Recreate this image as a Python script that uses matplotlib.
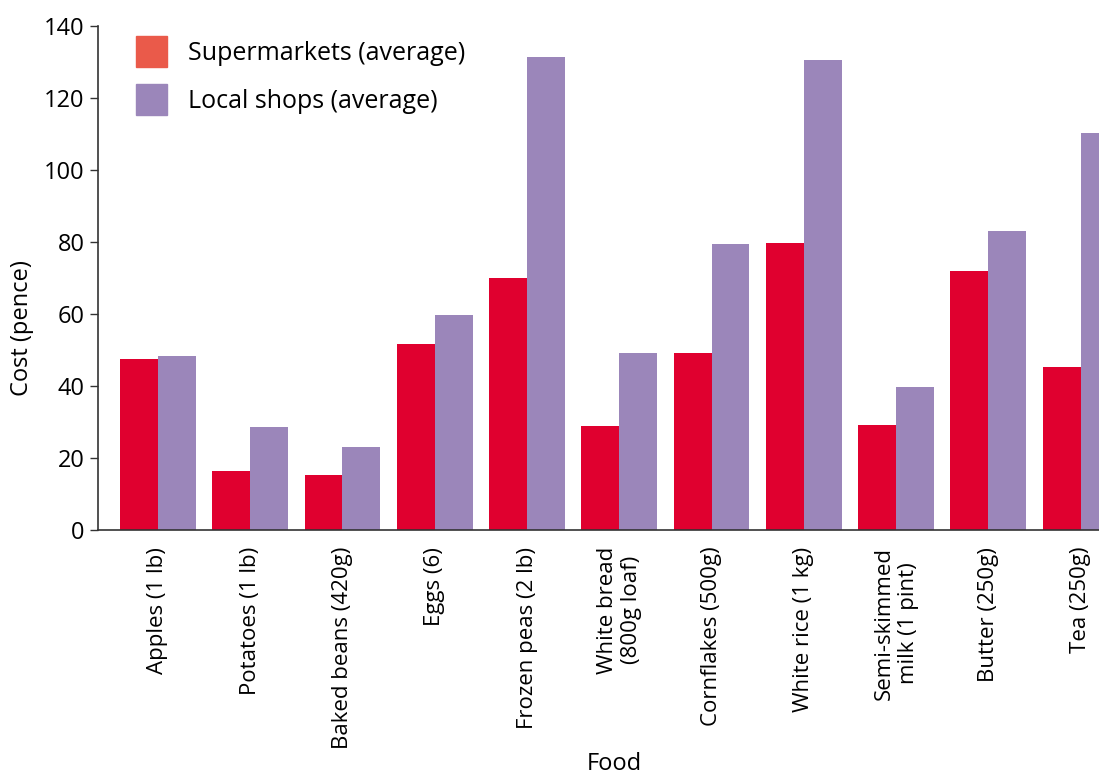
import numpy as np
import matplotlib
matplotlib.use('Agg')
import matplotlib.pyplot as plt
from matplotlib.patches import Patch

plt.rcParams['font.family'] = ['Open Sans', 'DejaVu Sans']

foods = ['Apples (1 lb)', 'Potatoes (1 lb)', 'Baked beans (420g)', 'Eggs (6)',
         'Frozen peas (2 lb)', 'White bread\n(800g loaf)', 'Cornflakes (500g)',
         'White rice (1 kg)', 'Semi-skimmed\nmilk (1 pint)', 'Butter (250g)', 'Tea (250g)']
supermarkets = [47.5, 16.4, 15.3, 51.7, 70.0, 28.9, 49.2, 79.7, 29.2, 71.9, 45.3]
local_shops = [48.3, 28.6, 23.0, 59.7, 131.4, 49.2, 79.4, 130.6, 39.7, 83.0, 110.3]
yticks = [0, 20, 40, 60, 80, 100, 120, 140]

RED = '#E0002F'
RED_KEY = '#EA5A4A'
PURPLE = '#9B86BA'

fig = plt.figure(figsize=(10.99, 7.74), dpi=100)
ax = fig.add_axes([98 / 1099, 1 - 530 / 774, 1 - 98 / 1099, (530 - 26) / 774])

x = np.arange(len(foods))
w = 0.41
ax.bar(x - w / 2, supermarkets, width=w, color=RED, linewidth=0)
ax.bar(x + w / 2, local_shops, width=w, color=PURPLE, linewidth=0)

ax.set_xlim(-0.65, 10.2)
ax.set_ylim(0, 140)
ax.set_yticks(yticks)
ax.set_xticks(x)
ax.set_xticklabels(foods, rotation=90, va='top', ha='center', fontsize=16,
                   multialignment='center')
ax.tick_params(axis='x', length=0, pad=12)
ax.tick_params(axis='y', labelsize=17, length=6, width=1, direction='out', color='#333333')

for side in ['top', 'right']:
    ax.spines[side].set_visible(False)
for side in ['left', 'bottom']:
    ax.spines[side].set_color('#333333')
    ax.spines[side].set_linewidth(1.2)

ax.set_ylabel('Cost (pence)', fontsize=17)
ax.yaxis.set_label_coords(-0.064, 0.4)
ax.set_xlabel('Food', fontsize=17)
ax.xaxis.set_label_coords(0.516, -0.44)

# legend swatches use a lighter red than the bars, as in the source
handles = [Patch(color=RED_KEY, label='Supermarkets (average)'),
           Patch(color=PURPLE, label='Local shops (average)')]
ax.legend(handles=handles, loc='upper left', bbox_to_anchor=(0.02, 1.014),
          frameon=False, fontsize=18, handlelength=1.25, handleheight=1.5,
          handletextpad=0.85, labelspacing=0.7, borderaxespad=0.3)

plt.savefig('out.png', dpi=100)
